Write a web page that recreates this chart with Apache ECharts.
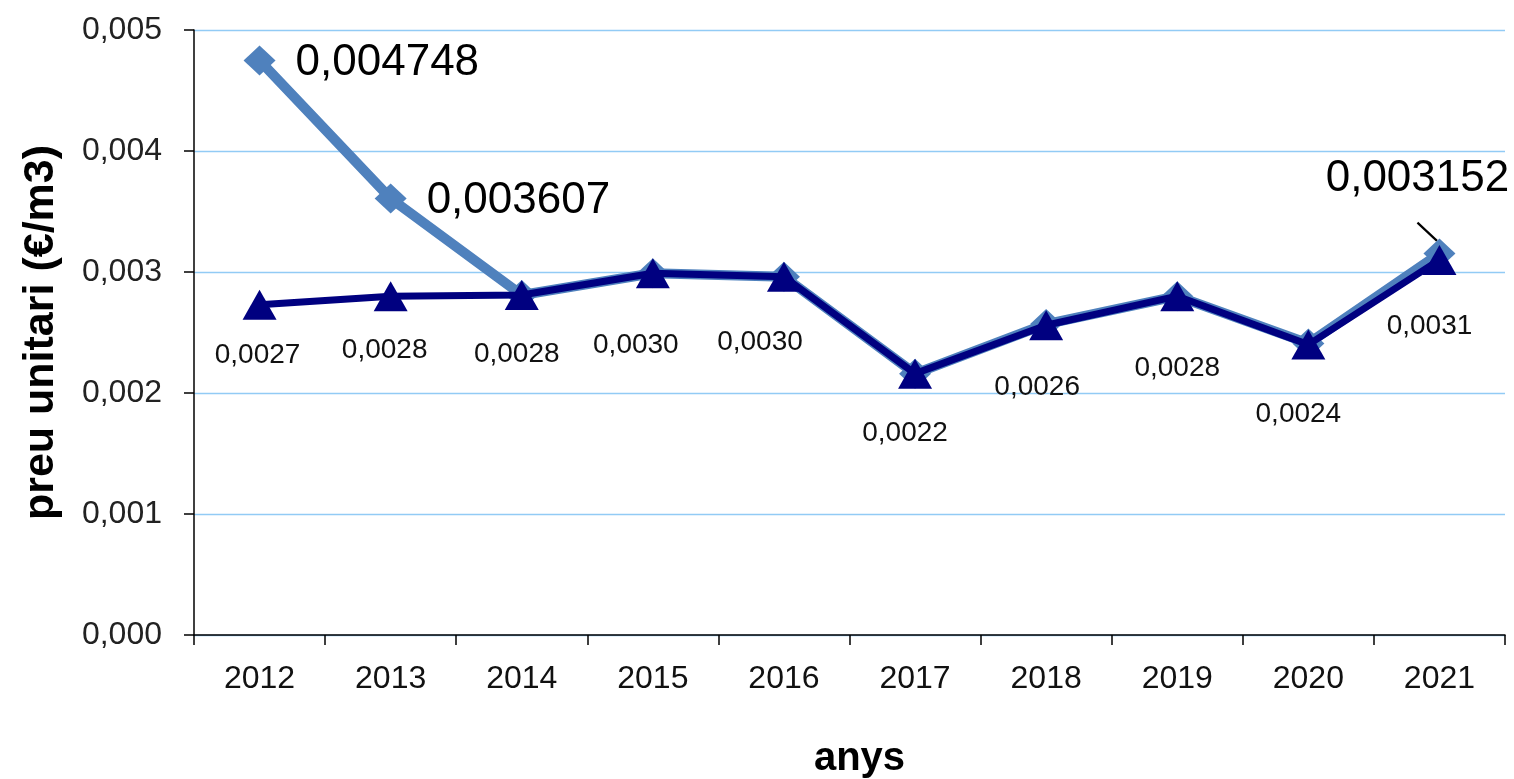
<!DOCTYPE html>
<html>
<head>
<meta charset="utf-8">
<script src="https://cdn.jsdelivr.net/npm/echarts@6/dist/echarts.min.js"></script>
<style>html,body{margin:0;padding:0;background:#fff}#c{width:1514px;height:779px}</style>
</head>
<body>
<div id="c"></div>
<script>
var years = ['2012','2013','2014','2015','2016','2017','2018','2019','2020','2021'];
var preuA = [0.004748, 0.003607, 0.00281, 0.00299, 0.00296, 0.00216, 0.00257, 0.00280, 0.00241, 0.003152];
var preuB = [0.00273, 0.00280, 0.00281, 0.00299, 0.00296, 0.00216, 0.00256, 0.00280, 0.00240, 0.00310];
var labelledA = [0, 1, 9];
var yTicks = { min: 0, max: 0.005, interval: 0.001 };

var FONT = 'Liberation Sans, Arial, sans-serif';
// label placement (layout only)
var labelShiftB = [-2, -6, -5, -17, -24, -10, -9, 0, -10, -10];
var labelGapB   = [22, 25, 30, 43, 36, 31, 33, 43, 41, 37];

var dataA = preuA.map(function(v, i){
  var show = labelledA.indexOf(i) >= 0;
  var lab = { show: show };
  if (i === 9) { lab.position = 'top'; lab.distance = 38; lab.offset = [-22, 0]; }
  else { lab.position = 'right'; lab.distance = 20; lab.offset = [0, 2]; }
  return { value: v, label: lab, labelLine: { show: i === 9 } };
});
var dataB = preuB.map(function(v, i){
  return { value: v, label: { show: true, position: 'bottom', distance: labelGapB[i], offset: [labelShiftB[i], 0] } };
});

var chart = echarts.init(document.getElementById('c'));
chart.setOption({
  animation: false,
  grid: { left: 194, right: 9, top: 30, bottom: 144, containLabel: false, outerBoundsMode: 'none' },
  xAxis: {
    type: 'category', data: years, boundaryGap: true,
    name: 'anys', nameLocation: 'middle', nameGap: 104,
    nameTextStyle: { fontFamily: FONT, fontSize: 40, fontWeight: 'bold', color: '#000', padding: [0, 0, 0, 20] },
    axisLine: { lineStyle: { color: '#000', width: 1.5 } },
    axisTick: { show: true, length: 10, alignWithLabel: false, lineStyle: { color: '#000', width: 1.5 } },
    axisLabel: { fontFamily: FONT, fontSize: 32, color: '#111', margin: 28 },
    splitLine: { show: false }
  },
  yAxis: {
    type: 'value', min: yTicks.min, max: yTicks.max, interval: yTicks.interval,
    name: 'preu unitari (€/m3)', nameLocation: 'middle', nameGap: 131, nameRotate: 90,
    nameTextStyle: { fontFamily: FONT, fontSize: 43, fontWeight: 'bold', color: '#000' },
    axisLine: { show: true, lineStyle: { color: '#000', width: 1.5 } },
    axisTick: { show: true, length: 10, lineStyle: { color: '#000', width: 1.5 } },
    axisLabel: { fontFamily: FONT, fontSize: 32, color: '#222', margin: 32,
      formatter: function(v){ return v.toFixed(3).replace('.', ','); } },
    splitLine: { show: true, lineStyle: { color: '#92CBF5', width: 1.3 } }
  },
  series: [
    {
      name: 'A', type: 'line', data: dataA, z: 2,
      symbol: 'diamond', symbolSize: [32, 30],
      lineStyle: { color: '#4F81BD', width: 10 },
      itemStyle: { color: '#4F81BD' },
      label: { fontFamily: FONT, fontSize: 44, color: '#000',
        formatter: function(p){ return p.value.toFixed(6).replace('.', ','); } },
      labelLine: { show: false, lineStyle: { color: '#000', width: 2.2 } }
    },
    {
      name: 'B', type: 'line', data: dataB, z: 3,
      symbol: 'triangle', symbolSize: [34, 30],
      lineStyle: { color: '#000080', width: 7 },
      itemStyle: { color: '#000080' },
      label: { fontFamily: FONT, fontSize: 28, color: '#111',
        formatter: function(p){ return p.value.toFixed(4).replace('.', ','); } }
    }
  ]
});
</script>
</body>
</html>
